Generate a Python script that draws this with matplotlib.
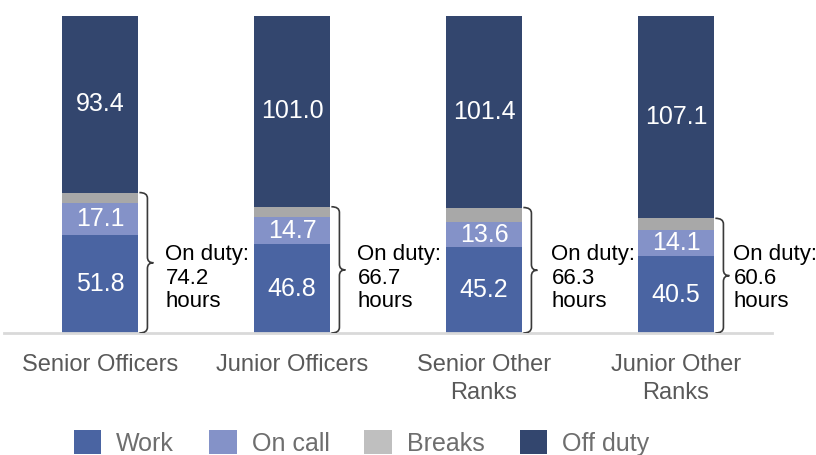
import numpy as np
import matplotlib
matplotlib.use("Agg")
import matplotlib.pyplot as plt
from matplotlib.path import Path
from matplotlib.patches import PathPatch

plt.rcParams['font.family'] = ['Liberation Sans', 'DejaVu Sans']

# hours per week by rank group
groups = ['Senior Officers', 'Junior Officers', 'Senior Other\nRanks', 'Junior Other\nRanks']
work = np.array([51.8, 46.8, 45.2, 40.5])
on_call = np.array([17.1, 14.7, 13.6, 14.1])
breaks = np.array([5.3, 5.2, 7.5, 6.0])
off_duty = np.array([93.4, 101.0, 101.4, 107.1])

series = ['Work', 'On call', 'Breaks', 'Off duty']
colors = ['#4a64a2', '#8492c8', '#a8a8a8', '#33466e']

fig = plt.figure(figsize=(8.16, 4.55), dpi=100)
ax = fig.add_axes([4 / 816, 1 - 333 / 455, 768 / 816, 318 / 455])

x = np.arange(len(groups))
w = 0.4
bottom = np.zeros(len(groups))
for vals, name, c in zip([work, on_call, breaks, off_duty], series, colors):
    ax.bar(x, vals, w, bottom=bottom, color=c, label=name, zorder=2)
    # value labels, breaks are too thin to label
    if name != 'Breaks':
        for xi, b, v in zip(x, bottom, vals):
            ax.text(xi, b + v / 2, f'{v:.1f}', ha='center', va='center',
                    color='white', fontsize=18)
    bottom += vals


def brace(ax, x0, y0, y1, r=3.0, dx1=0.042, dx2=0.073):
    xm, xt = x0 + dx1, x0 + dx2
    ym = (y0 + y1) / 2
    verts = [(x0, y1), (xm, y1), (xm, y1 - r),
             (xm, ym + r),
             (xm, ym), (xt, ym),
             (xm, ym), (xm, ym - r),
             (xm, y0 + r),
             (xm, y0), (x0, y0)]
    codes = [Path.MOVETO, Path.CURVE3, Path.CURVE3,
             Path.LINETO,
             Path.CURVE3, Path.CURVE3,
             Path.CURVE3, Path.CURVE3,
             Path.LINETO,
             Path.CURVE3, Path.CURVE3]
    ax.add_patch(PathPatch(Path(verts, codes), fill=False, lw=1.2,
                           edgecolor='#3a3a3a', zorder=3))


# gap between bar edge and the on-duty note, in axis units
note_gap = np.array([27, 27, 29, 19]) / 192

on_duty = work + on_call + breaks
for xi, od, g in zip(x, on_duty, note_gap):
    brace(ax, xi + w / 2 + 0.005, 0, od)
    ax.text(xi + w / 2 + g, 29, f'On duty:\n{od:.1f}\nhours', ha='left',
            va='center', fontsize=16, color='black', linespacing=1.15)

ax.set_xlim(-0.5, 3.5)
ax.set_ylim(0, 168)
ax.set_xticks(x)
ax.set_xticklabels(groups, fontsize=17, color='#595959', linespacing=1.38)
ax.tick_params(axis='x', length=0, pad=15)
ax.set_yticks([])
for s in ['top', 'right', 'left']:
    ax.spines[s].set_visible(False)
ax.spines['bottom'].set_color('#d9d9d9')
ax.spines['bottom'].set_linewidth(2)

handles, labels = ax.get_legend_handles_labels()
leg = fig.legend(handles, labels, loc='center', bbox_to_anchor=(0.443, 0.026), ncol=4,
                 frameon=False, fontsize=18, labelcolor='#6e6e6e', handlelength=1.1,
                 handleheight=1.1, handletextpad=0.6, columnspacing=1.4, borderpad=0)
leg.legend_handles[2].set_facecolor('#bfbfbf')

fig.savefig('out.png', dpi=100)
